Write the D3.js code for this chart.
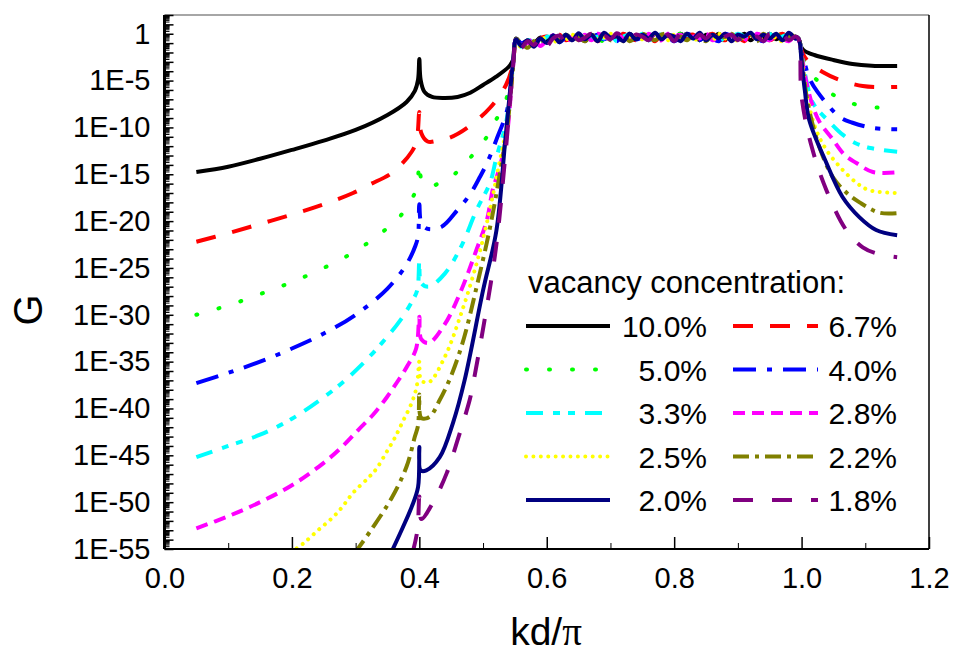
<!DOCTYPE html>
<html>
<head>
<meta charset="utf-8">
<script src="https://cdn.jsdelivr.net/npm/d3@7"></script>
<style>
  body { margin: 0; background: #fff; }
  text { font-family: "Liberation Sans", Arial, sans-serif; fill: #000; }
</style>
</head>
<body>
<svg id="chart" width="957" height="655"></svg>
<script>
// vacancy concentrations (legend order)
const concentrations = ["10.0%", "6.7%", "5.0%", "4.0%", "3.3%", "2.8%", "2.5%", "2.2%", "2.0%", "1.8%"];

// x tick labels and y exponents that get a label
const xTicks = [0.0, 0.2, 0.4, 0.6, 0.8, 1.0, 1.2];
const yLabelExps = [0, -5, -10, -15, -20, -25, -30, -35, -40, -45, -50, -55];

// points are [kd/pi, log10 G]; left branch incl. the cusp at 0.4 and the band edge
const rise10 = [[0.05,-14.76],[0.1,-14.2],[0.15,-13.35],[0.2,-12.4],[0.25,-11.4],[0.3,-10.27],[0.35,-8.67],[0.38,-7.28],[0.393,-6.1],[0.398,-4.9],[0.4,-2.7],[0.402,-4.9],[0.408,-6.2],[0.42,-6.75],[0.44,-6.86],[0.46,-6.75],[0.48,-6.3],[0.5,-5.47],[0.52,-4.6],[0.54,-3.55],[0.547,-2.8],[0.552,-0.5]];
const rise67 = [[0.05,-22.2],[0.1,-21.3],[0.15,-20.3],[0.2,-19.3],[0.25,-18.2],[0.296,-17.0],[0.322,-16.1],[0.358,-14.8],[0.388,-12.6],[0.396,-11.3],[0.4,-8.35],[0.403,-10.6],[0.413,-11.5],[0.43,-11.4],[0.448,-11.1],[0.475,-10.06],[0.511,-7.9],[0.536,-5.47],[0.547,-3.2],[0.552,-0.6]];
const rise50 = [[0.05,-30.0],[0.1,-29.0],[0.15,-27.8],[0.2,-26.5],[0.25,-25.0],[0.3,-23.2],[0.346,-20.95],[0.369,-19.56],[0.393,-17.0],[0.397,-16.0],[0.4,-13.8],[0.403,-15.5],[0.412,-16.36],[0.43,-16.0],[0.448,-15.4],[0.479,-13.3],[0.507,-10.9],[0.518,-9.5],[0.536,-7.07],[0.547,-3.3],[0.552,-0.6]];
const rise40 = [[0.05,-37.3],[0.1,-36.2],[0.15,-35.0],[0.2,-33.6],[0.25,-32.0],[0.3,-30.0],[0.35,-27.2],[0.38,-24.6],[0.394,-22.6],[0.398,-21.6],[0.4,-18.2],[0.403,-20.2],[0.412,-20.8],[0.435,-20.6],[0.46,-18.8],[0.479,-17.2],[0.495,-15.3],[0.507,-13.7],[0.521,-11.3],[0.538,-8.1],[0.547,-3.4],[0.552,-0.6]];
const rise33 = [[0.05,-45.2],[0.1,-44.0],[0.15,-42.8],[0.2,-41.1],[0.25,-38.8],[0.28,-37.2],[0.31,-35.3],[0.34,-33.1],[0.37,-30.6],[0.39,-28.4],[0.397,-27.3],[0.4,-24.3],[0.403,-26.6],[0.415,-27.0],[0.44,-25.6],[0.465,-22.8],[0.49,-18.8],[0.511,-15.9],[0.521,-13.2],[0.537,-9.2],[0.547,-3.4],[0.552,-0.6]];
const rise28 = [[0.05,-52.8],[0.1,-51.5],[0.15,-50.0],[0.2,-48.2],[0.25,-45.8],[0.28,-44.0],[0.304,-42.3],[0.327,-40.7],[0.349,-38.8],[0.365,-37.2],[0.38,-35.6],[0.395,-33.6],[0.4,-30.2],[0.403,-32.6],[0.415,-33.0],[0.44,-31.0],[0.465,-27.5],[0.49,-23.0],[0.506,-19.9],[0.515,-16.7],[0.525,-14.5],[0.537,-11.0],[0.547,-3.5],[0.552,-0.6]];
const rise25 = [[0.198,-55.4],[0.218,-54.4],[0.241,-53.0],[0.263,-51.7],[0.278,-50.6],[0.296,-49.0],[0.32,-47.4],[0.333,-46.4],[0.349,-44.6],[0.361,-43.2],[0.374,-41.4],[0.388,-39.4],[0.396,-37.6],[0.4,-35.0],[0.403,-37.0],[0.415,-37.2],[0.44,-34.5],[0.465,-30.0],[0.49,-24.5],[0.51,-19.0],[0.525,-14.0],[0.538,-9.5],[0.547,-3.6],[0.552,-0.6]];
const rise22 = [[0.298,-55.5],[0.327,-52.7],[0.357,-49.5],[0.38,-46.2],[0.393,-43.0],[0.398,-41.8],[0.4,-38.5],[0.403,-41.0],[0.416,-40.9],[0.432,-39.1],[0.45,-36.5],[0.47,-32.5],[0.49,-27.0],[0.51,-21.0],[0.525,-15.5],[0.538,-10.0],[0.547,-3.7],[0.552,-0.6]];
const rise20 = [[0.355,-55.5],[0.374,-52.7],[0.388,-50.5],[0.398,-48.4],[0.4,-44.1],[0.402,-46.6],[0.411,-46.6],[0.432,-45.2],[0.453,-41.5],[0.471,-37.0],[0.5,-27.4],[0.521,-21.0],[0.535,-11.3],[0.547,-3.1],[0.552,-0.6]];
const rise18 = [[0.389,-55.5],[0.397,-53.0],[0.4,-49.4],[0.403,-51.8],[0.421,-50.1],[0.443,-46.9],[0.459,-43.6],[0.479,-39.1],[0.484,-37.5],[0.5,-31.5],[0.52,-23.0],[0.535,-13.0],[0.547,-3.6],[0.552,-0.6]];

// the noisy transmission band, log10 G at these kd/pi
const plateauKd = [0.56,0.57,0.58,0.59,0.60,0.61,0.62,0.63,0.64,0.65,0.66,0.67,0.68,0.69,0.70,0.71,0.72,0.73,0.74,0.75,0.76,0.77,0.78,0.79,0.80,0.81,0.82,0.83,0.84,0.85,0.86,0.87,0.88,0.89,0.90,0.91,0.92,0.93,0.94,0.95,0.96,0.97,0.98,0.99];
const flat10 = [-1.1,-0.7,-1.0,-0.4,-0.8,-0.2,-0.7,-0.1,-0.6,-0.3,-0.8, -0.1,-0.6,0.0,-0.5,-0.2,-0.7,0.0,-0.5,-0.2,-0.7,0.0, -0.5,-0.2,-0.7,0.0,-0.5,-0.2,-0.7,-0.1,-0.5,0.0,-0.6, -0.2,-0.5,0.0,-0.7,-0.1,-0.5,0.0,-0.6,-0.2,-0.5,-0.3];
const flat67 = [-1.3,-0.6,-1.1,-0.5,-0.3,-0.9,-0.1,-0.7,-0.4,0.0,-0.6, -0.3,-0.8,-0.1,-0.3,-0.7,0.0,-0.4,-0.7,-0.1,-0.3,-0.8, -0.1,-0.5,0.0,-0.6,-0.3,-0.1,-0.8,-0.3,0.0,-0.5,-0.7, -0.1,-0.3,-0.8,0.0,-0.5,-0.2,-0.7,-0.3,0.0,-0.5,-0.6];
const flat50 = [-0.9,-1.3,-0.7,-1.0,-0.4,-0.6,-0.9,-0.2,-0.1,-0.6,-0.4, 0.0,-0.5,-0.8,-0.3,-0.1,-0.6,-0.5,0.0,-0.3,-0.7,-0.1, -0.5,-0.8,-0.2,0.0,-0.5,-0.7,-0.3,0.0,-0.2,-0.7,-0.4, 0.0,-0.3,-0.7,-0.1,-0.2,-0.8,-0.3,0.0,-0.5,-0.2,-0.6];
const flat40 = [-1.0,-0.8,-1.4,-0.5,-0.7,-0.2,-0.9,-0.4,-0.6,-0.1,-0.8, -0.4,-0.1,-0.6,-0.3,-0.8,-0.1,0.0,-0.6,-0.4,-0.1,-0.7, 0.0,-0.3,-0.8,-0.4,0.0,-0.3,-0.7,-0.1,-0.5,-0.8,0.0, -0.3,-0.7,-0.1,0.0,-0.5,-0.8,-0.2,-0.3,-0.7,0.0,-0.5];
const flat33 = [-1.4,-0.7,-0.9,-1.1,-0.3,-0.5,-0.8,-0.1,-0.7,-0.3,0.0, -0.6,-0.3,-0.5,0.0,-0.8,-0.3,-0.1,-0.5,0.0,-0.7,-0.3, -0.1,-0.6,-0.3,-0.8,-0.1,-0.5,0.0,-0.7,-0.3,-0.1,-0.8, -0.4,0.0,-0.3,-0.7,-0.1,-0.5,0.0,-0.8,-0.3,-0.1,-0.6];
const flat28 = [-1.1,-1.0,-0.6,-1.3,-0.7,-0.2,-0.6,-0.9,-0.3,-0.5,-0.1, -0.7,0.0,-0.3,-0.6,-0.1,-0.5,-0.8,-0.1,-0.6,0.0,-0.5, -0.7,0.0,-0.3,-0.1,-0.8,-0.3,-0.5,0.0,-0.7,-0.3,-0.1, -0.6,-0.1,-0.5,-0.8,0.0,-0.3,-0.7,-0.1,-0.5,-0.8,-0.2];
const flat25 = [-1.5,-0.8,-1.1,-0.7,-0.4,-1.0,-0.3,-0.6,-0.1,-0.7,-0.3, -0.1,-0.6,-0.4,0.0,-0.3,-0.8,-0.3,-0.1,-0.6,-0.5,0.0, -0.3,-0.7,-0.1,-0.5,0.0,-0.8,-0.2,-0.3,-0.7,0.0,-0.5, -0.1,-0.8,-0.3,0.0,-0.6,-0.3,-0.1,-0.5,-0.8,-0.1,-0.3];
const flat22 = [-1.0,-1.5,-0.8,-0.5,-1.1,-0.4,-0.7,-0.1,-0.6,-0.4,-0.8, -0.1,-0.5,0.0,-0.7,-0.3,-0.1,-0.8,-0.4,0.0,-0.3,-0.7, -0.1,0.0,-0.5,-0.3,-0.7,0.0,-0.3,-0.8,-0.1,-0.5,-0.3, 0.0,-0.6,-0.3,-0.1,-0.8,0.0,-0.5,-0.1,-0.7,-0.3,-0.5];
const flat20 = [-1.3,-0.7,-1.4,-0.5,-1.0,-0.2,-0.9,-0.1,-0.7,0.05,-0.6, -0.1,-0.8,0.1,-0.4,-0.3,-0.8,0.0,-0.6,-0.1,-0.5,0.1, -0.6,-0.1,-0.3,-0.8,0.0,-0.5,0.1,-0.7,-0.1,-0.5,0.0, -0.8,-0.1,-0.3,0.1,-0.6,-0.1,-0.5,0.0,-0.7,0.1,-0.5];
const flat18 = [-1.5,-0.8,-1.2,-0.4,-1.3,-0.5,-0.2,-1.0,-0.1,-0.7,-0.4, 0.0,-0.8,-0.2,-0.6,0.05,-0.4,-0.8,-0.1,-0.3,-0.7,0.05, -0.5,-0.1,-0.8,0.0,-0.3,-0.7,-0.1,-0.5,0.05,-0.8,-0.3, -0.1,-0.7,0.05,-0.5,-0.3,-0.8,0.0,-0.5,-0.1,-0.7,-0.3];

// right branch after the band edge at kd/pi = 1
const fall10 = [[0.995,-0.5],[1.0,-1.5],[1.005,-1.85],[1.02,-2.27],[1.05,-2.8],[1.08,-3.23],[1.11,-3.42],[1.15,-3.45]];
const fall67 = [[0.995,-0.5],[1.0,-1.8],[1.005,-2.5],[1.013,-3.12],[1.033,-4.08],[1.06,-4.94],[1.096,-5.58],[1.125,-5.7],[1.15,-5.68]];
const fall50 = [[0.995,-0.5],[1.0,-2.0],[1.006,-3.5],[1.024,-4.94],[1.055,-6.75],[1.088,-7.6],[1.122,-7.9],[1.15,-7.95]];
const fall40 = [[0.995,-0.5],[1.0,-2.1],[1.005,-3.2],[1.012,-4.72],[1.025,-6.2],[1.06,-8.9],[1.08,-9.5],[1.112,-10.06],[1.15,-10.2]];
const fall33 = [[0.995,-0.5],[1.0,-2.2],[1.006,-4.5],[1.018,-7.4],[1.045,-9.5],[1.065,-10.8],[1.084,-11.66],[1.108,-12.2],[1.15,-12.6]];
const fall28 = [[0.995,-0.5],[1.0,-2.3],[1.007,-5.0],[1.016,-7.4],[1.028,-9.4],[1.047,-11.1],[1.067,-12.9],[1.086,-13.8],[1.112,-14.76],[1.15,-14.8]];
const fall25 = [[0.995,-0.5],[1.0,-2.5],[1.008,-6.5],[1.023,-10.3],[1.039,-12.4],[1.06,-14.2],[1.086,-15.9],[1.106,-16.7],[1.15,-17.0]];
const fall22 = [[0.995,-0.5],[1.0,-2.6],[1.01,-7.5],[1.028,-12.1],[1.049,-15.3],[1.071,-17.0],[1.091,-18.0],[1.122,-19.1],[1.15,-19.15]];
const fall20 = [[0.995,-0.5],[1.0,-3.0],[1.005,-6.0],[1.012,-9.2],[1.039,-13.8],[1.064,-17.4],[1.091,-19.6],[1.117,-20.95],[1.15,-21.5]];
const fall18 = [[0.995,-0.5],[1.0,-6.75],[1.016,-12.1],[1.039,-16.7],[1.07,-20.95],[1.096,-22.8],[1.12,-23.5],[1.15,-23.85]];

const rises = [rise10, rise67, rise50, rise40, rise33, rise28, rise25, rise22, rise20, rise18];
const flats = [flat10, flat67, flat50, flat40, flat33, flat28, flat25, flat22, flat20, flat18];
const falls = [fall10, fall67, fall50, fall40, fall33, fall28, fall25, fall22, fall20, fall18];

// line styles, same order as the concentrations
const styles = [
    { color: "#000000", dash: null, cap: "butt" },
    { color: "#ff0000", dash: "20,17", cap: "butt" },
    { color: "#00ff00", dash: "1,22", cap: "round" },
    { color: "#0000ff", dash: "23,11,5,11", cap: "butt" },
    { color: "#00ffff", dash: "17,10,7,8,7,10", cap: "butt" },
    { color: "#ff00ff", dash: "12,7", cap: "butt" },
    { color: "#ffff00", dash: "0.01,7.4", cap: "round" },
    { color: "#808000", dash: "16,6,4,6", cap: "butt" },
    { color: "#000080", dash: null, cap: "butt" },
    { color: "#800080", dash: "20,19", cap: "butt" }
];

const series = concentrations.map((c, i) => ({
    label: c,
    style: styles[i],
    points: rises[i].concat(plateauKd.map((k, j) => [k, flats[i][j]]), falls[i])
}));

// plot box
const plotLeft = 164.5, plotRight = 929, plotTop = 15, plotBottom = 549;
const svg = d3.select("#chart");

const xScale = d3.scaleLinear().domain([0, 1.2]).range([plotLeft, plotRight]);
const yScale = d3.scaleLog().domain([1e-55, 1e2]).range([plotBottom, plotTop]);

svg.append("defs").append("clipPath").attr("id", "plot-clip")
    .append("rect")
    .attr("x", plotLeft).attr("y", plotTop)
    .attr("width", plotRight - plotLeft).attr("height", plotBottom - plotTop);

// lines
const line = d3.line()
    .x(d => xScale(d[0]))
    .y(d => yScale(Math.pow(10, d[1])))
    .curve(d3.curveCatmullRom.alpha(0.5));

svg.append("g").attr("clip-path", "url(#plot-clip)")
    .selectAll("path")
    .data(series)
    .join("path")
    .attr("d", d => line(d.points))
    .attr("fill", "none")
    .attr("stroke", d => d.style.color)
    .attr("stroke-width", 4)
    .attr("stroke-linecap", d => d.style.cap)
    .attr("stroke-linejoin", "round")
    .attr("stroke-dasharray", d => d.style.dash);

// frame
svg.append("line").attr("x1", plotLeft).attr("x2", plotRight).attr("y1", plotTop).attr("y2", plotTop)
    .attr("stroke", "#888").attr("stroke-width", 1.5);
svg.append("line").attr("x1", plotRight).attr("x2", plotRight).attr("y1", plotTop).attr("y2", plotBottom)
    .attr("stroke", "#000").attr("stroke-width", 1.5);

// x axis, ticks pointing inward
const xAxisGroup = svg.append("g").attr("transform", `translate(0,${plotBottom})`)
    .call(d3.axisBottom(xScale).tickValues(xTicks).tickSize(-12).tickPadding(18)
        .tickFormat(d3.format(".1f")));
svg.append("g").attr("transform", `translate(0,${plotBottom})`)
    .call(d3.axisBottom(xScale).tickValues(d3.range(1, 12, 2).map(v => v / 10)).tickSize(-6).tickFormat(""))
    .call(g => g.select(".domain").remove());
xAxisGroup.select(".domain").attr("d", `M${plotLeft},0H${plotRight}`).attr("stroke-width", 2);
xAxisGroup.selectAll(".tick line").attr("stroke-width", 1.5);
xAxisGroup.selectAll("text").style("font-size", "29px").style("font-family", "Liberation Sans, Arial, sans-serif");

// y axis: decade ticks plus 2..9 minor ticks like the log axis of the original
const decades = d3.range(-55, 3).map(e => Math.pow(10, e));
const minors = [];
d3.range(-55, 2).forEach(e => { for (let m = 2; m <= 9; m++) minors.push(m * Math.pow(10, e)); });

svg.append("g").attr("transform", `translate(${plotLeft},0)`)
    .call(d3.axisLeft(yScale).tickValues(minors).tickSize(-5).tickFormat(""))
    .call(g => g.select(".domain").remove())
    .call(g => g.selectAll(".tick line").attr("stroke-width", 1));
svg.append("g").attr("transform", `translate(${plotLeft},0)`)
    .call(d3.axisLeft(yScale).tickValues(decades).tickSize(-9).tickFormat(""))
    .call(g => g.select(".domain").remove())
    .call(g => g.selectAll(".tick line").attr("stroke-width", 1.5));

const yAxisGroup = svg.append("g").attr("transform", `translate(${plotLeft},0)`)
    .call(d3.axisLeft(yScale).tickValues(yLabelExps.map(e => Math.pow(10, e))).tickSize(0).tickPadding(14)
        .tickFormat(d => {
            const e = Math.round(Math.log10(d));
            return e === 0 ? "1" : "1E" + e;
        }));
yAxisGroup.select(".domain").attr("d", `M0,${plotTop}V${plotBottom}`).attr("stroke-width", 3);
yAxisGroup.selectAll("text").style("font-size", "29px").style("font-family", "Liberation Sans, Arial, sans-serif");

// axis titles
svg.append("text")
    .attr("transform", "translate(42,310) rotate(-90)")
    .attr("text-anchor", "middle")
    .style("font-size", "40px")
    .text("G");

const xTitle = svg.append("text")
    .attr("x", 546).attr("y", 645)
    .attr("text-anchor", "middle")
    .style("font-size", "39px");
xTitle.append("tspan").text("kd/");
xTitle.append("tspan").style("font-family", "Liberation Serif, serif").text("π");

// legend
svg.append("text")
    .attr("x", 528).attr("y", 293)
    .style("font-size", "31px")
    .text("vacancy concentration:");

const legend = svg.append("g");
const rowY = i => 326 + Math.floor(i / 2) * 43.5;
const colLine = [[526, 610], [733, 818]];
const colText = [707, 897];

series.forEach((s, i) => {
    const c = i % 2;
    legend.append("line")
        .attr("x1", colLine[c][0]).attr("x2", colLine[c][1])
        .attr("y1", rowY(i)).attr("y2", rowY(i))
        .attr("stroke", s.style.color)
        .attr("stroke-width", 4)
        .attr("stroke-linecap", s.style.cap)
        .attr("stroke-dasharray", s.style.dash);
    legend.append("text")
        .attr("x", colText[c]).attr("y", rowY(i) + 11)
        .attr("text-anchor", "end")
        .style("font-size", "30px")
        .text(s.label);
});
</script>
</body>
</html>
